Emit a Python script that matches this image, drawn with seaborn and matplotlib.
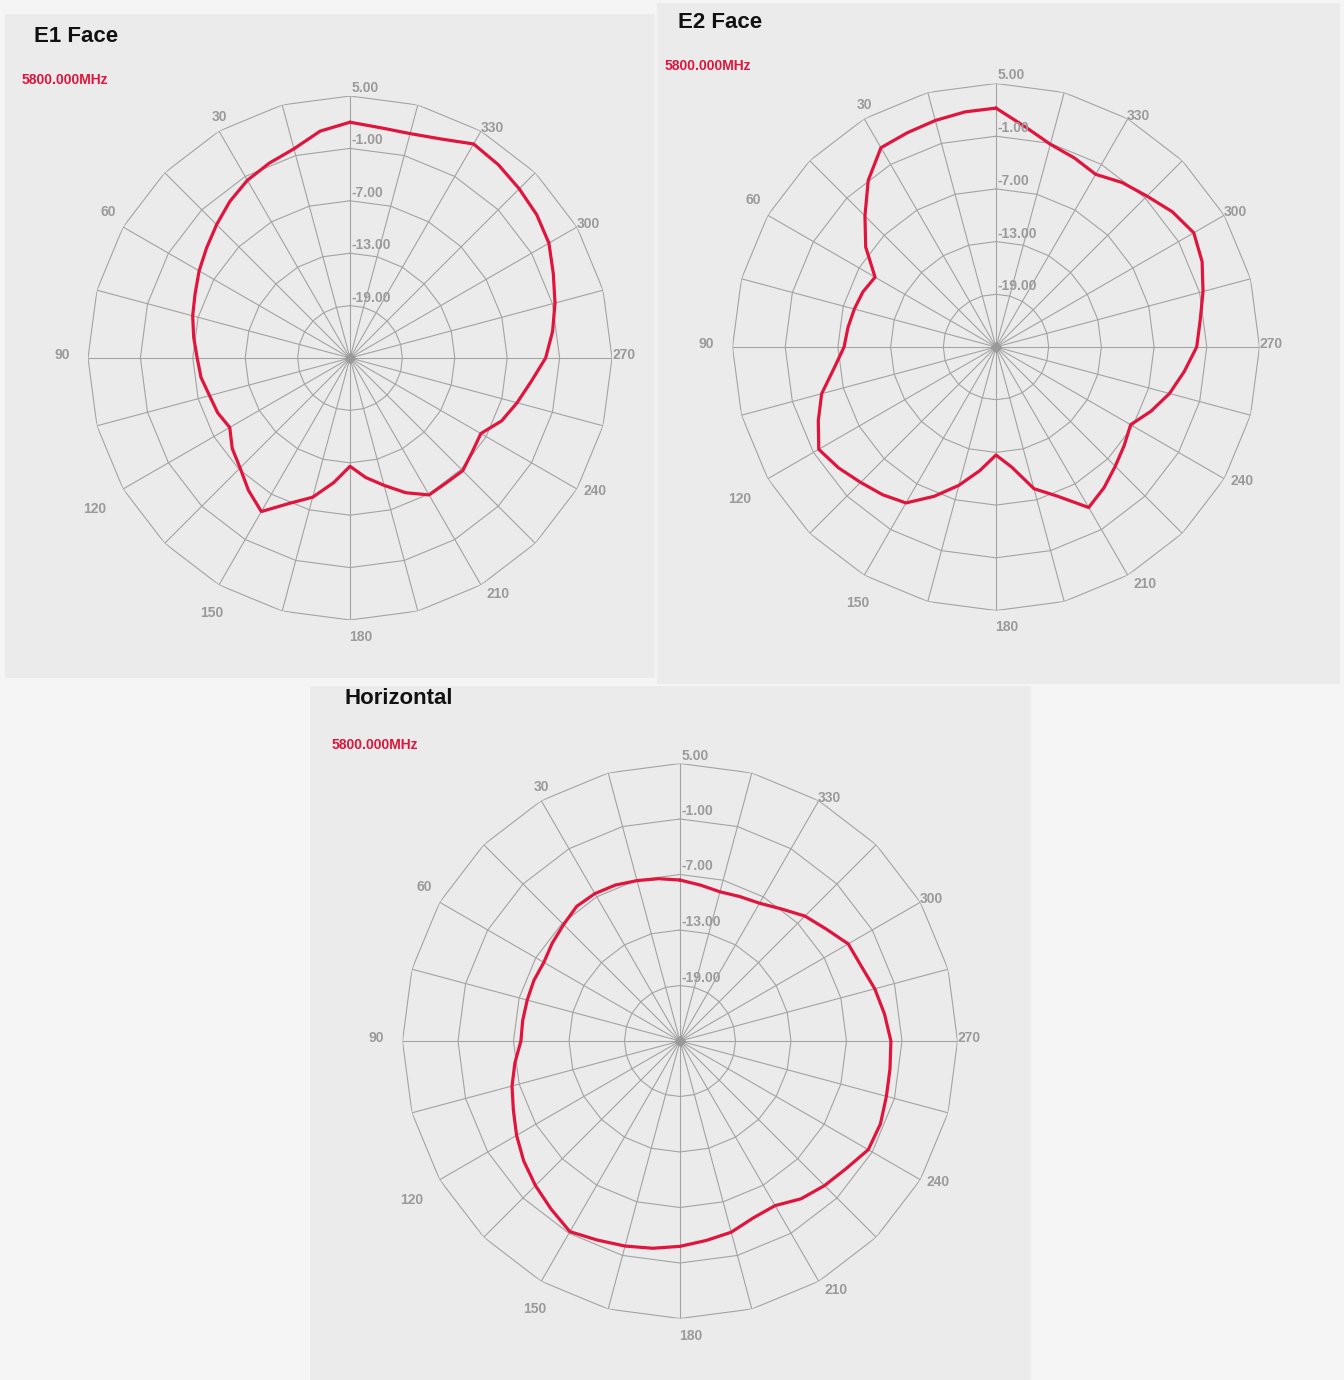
import numpy as np
import matplotlib
matplotlib.use("Agg")
import matplotlib.pyplot as plt
from matplotlib.patches import Rectangle
import seaborn as sns

angles = [0, 7.5, 15, 22.5, 30, 37.5, 45, 52.5, 60, 67.5, 75, 82.5,
          90, 97.5, 105, 112.5, 120, 127.5, 135, 142.5, 150, 157.5, 165, 172.5,
          180, 187.5, 195, 202.5, 210, 217.5, 225, 232.5, 240, 247.5, 255, 262.5,
          270, 277.5, 285, 292.5, 300, 307.5, 315, 322.5, 330, 337.5, 345, 352.5]

e1_face = [2.0, 1.2, -0.2, -0.85, -1.5, -2.4, -3.4, -4.3, -5.05, -5.8, -6.35, -6.95,
           -7.5, -7.8, -8.35, -8.6, -9.1, -8.0, -7.2, -5.9, -4.7, -7.0, -8.5, -10.6,
           -12.6, -11.2, -9.9, -8.3, -6.9, -6.95, -6.75, -7.35, -7.7, -6.2, -5.2, -4.1,
           -2.6, -1.6, -0.7, 0.2, 1.3, 1.95, 2.4, 2.9, 3.3, 2.15, 1.6, 1.6]

e2_face = [2.2, 2.0, 1.7, 1.4, 1.2, -1.1, -3.9, -6.3, -9.1, -8.6, -8.3, -8.0,
           -7.7, -6.4, -4.45, -3.1, -1.7, -2.4, -3.2, -3.8, -4.5, -6.6, -8.7, -10.8,
           -12.7, -11.2, -8.3, -6.6, -3.9, -4.8, -5.8, -6.6, -7.3, -5.9, -4.55, -3.4,
           -2.15, -1.55, -0.6, 0.4, 1.0, 0.3, -0.7, -1.4, -2.3, -1.7, -1.1, 0.3]

horizontal = [-7.6, -7.3, -7.05, -6.75, -6.6, -6.65, -7.2, -7.6, -8.0, -7.9, -7.9, -7.85,
              -7.8, -7.0, -6.2, -5.5, -4.6, -3.7, -2.9, -2.1, -1.2, -1.7, -2.05, -2.4,
              -2.8, -3.25, -3.6, -4.3, -4.45, -3.5, -2.9, -2.35, -1.5, -1.55, -1.9, -2.1,
              -2.2, -2.7, -3.2, -3.8, -4.0, -5.1, -5.9, -7.0, -7.8, -8.1, -8.3, -8.0]

ring_values = [-19, -13, -7, -1, 5]
ring_labels = ["-19.00", "-13.00", "-7.00", "-1.00", "5.00"]
angle_ticks = [30, 60, 90, 120, 150, 180, 210, 240, 270, 300, 330]
freq_label = "5800.000MHz"

# --- Estilo ---
W, H = 1344, 1380
R_MIN, R_MAX = -25, 5
PANEL = "#ebebeb"
GRID = "#a3a3a3"
RED = "#e0143c"
LABEL = "#9a9a9a"

# deslocamento (pixels) dos rótulos angulares a partir do vértice externo
tick_offsets = {30: (0, 14), 60: (-15, 15), 90: (-26, 3), 120: (-28, -20),
                150: (-7, -28), 180: (11, -17), 210: (17, -9), 240: (18, -2),
                270: (12, 3), 300: (11, 3), 330: (11, 3)}

sns.set_style("white")
plt.rcParams['font.family'] = ['Liberation Sans', 'DejaVu Sans']

fig = plt.figure(figsize=(W / 100, H / 100), dpi=100)
fig.patch.set_facecolor("#f5f5f5")


def add_panel(x0, y0, x1, y1):
    fig.add_artist(Rectangle((x0 / W, 1 - y1 / H), (x1 - x0) / W, (y1 - y0) / H,
                             transform=fig.transFigure, facecolor=PANEL,
                             edgecolor="none", zorder=0))


def draw_chart(values, cx, cy, R, title, title_xy, freq_xy):
    ax = fig.add_axes([(cx - R) / W, 1 - (cy + R) / H, 2 * R / W, 2 * R / H],
                      projection="polar")
    ax.set_theta_zero_location("N")
    ax.set_theta_direction(1)
    ax.set_facecolor("none")
    ax.grid(False)
    ax.set_xticks([])
    ax.set_yticks([])
    ax.spines["polar"].set_visible(False)

    # grade poligonal: 24 raios e anéis a cada 6 dB
    spokes = np.deg2rad(np.arange(0, 360, 15))
    closed = np.append(spokes, spokes[0])
    for t in spokes:
        ax.plot([t, t], [R_MIN, R_MAX], color=GRID, lw=0.8, zorder=1)
    for v in ring_values:
        ax.plot(closed, [v] * len(closed), color=GRID, lw=0.8, zorder=1)
    ax.plot([0], [R_MIN], marker="D", ms=5, color="#999999", zorder=2)

    theta = np.deg2rad(angles + [angles[0]])
    r = values + [values[0]]
    sns.lineplot(x=theta, y=r, ax=ax, sort=False, estimator=None,
                 color=RED, linewidth=2.3, zorder=3)
    ax.set_ylim(R_MIN, R_MAX)
    ax.set_xlabel("")
    ax.set_ylabel("")

    for v, lab in zip(ring_values, ring_labels):
        ax.annotate(lab, xy=(0, v), xytext=(2, 8), textcoords="offset pixels",
                    ha="left", va="center", fontsize=10, fontweight="bold",
                    color=LABEL, zorder=4)
    for a in angle_ticks:
        dx, dy = tick_offsets[a]
        ax.annotate(str(a), xy=(np.deg2rad(a), R_MAX), xytext=(dx, dy),
                    textcoords="offset pixels", ha="center", va="center",
                    fontsize=10, fontweight="bold", color=LABEL, zorder=4)

    fig.text(title_xy[0] / W, 1 - title_xy[1] / H, title, ha="left", va="center",
             fontsize=16, fontweight="bold", color="#111111")
    fig.text(freq_xy[0] / W, 1 - freq_xy[1] / H, freq_label, ha="left", va="center",
             fontsize=10, fontweight="bold", color=RED)
    return ax


add_panel(5, 14, 655, 678)
add_panel(657, 3, 1340, 684)
add_panel(310, 686, 1031, 1380)

draw_chart(e1_face, 350, 358, 262, "E1 Face", (34, 37), (22, 80))
draw_chart(e2_face, 996, 347, 263.5, "E2 Face", (678, 22), (665, 66))
draw_chart(horizontal, 680, 1041, 277.5, "Horizontal", (345, 699), (332, 745))

fig.savefig("out.png", dpi=100, facecolor=fig.get_facecolor())
